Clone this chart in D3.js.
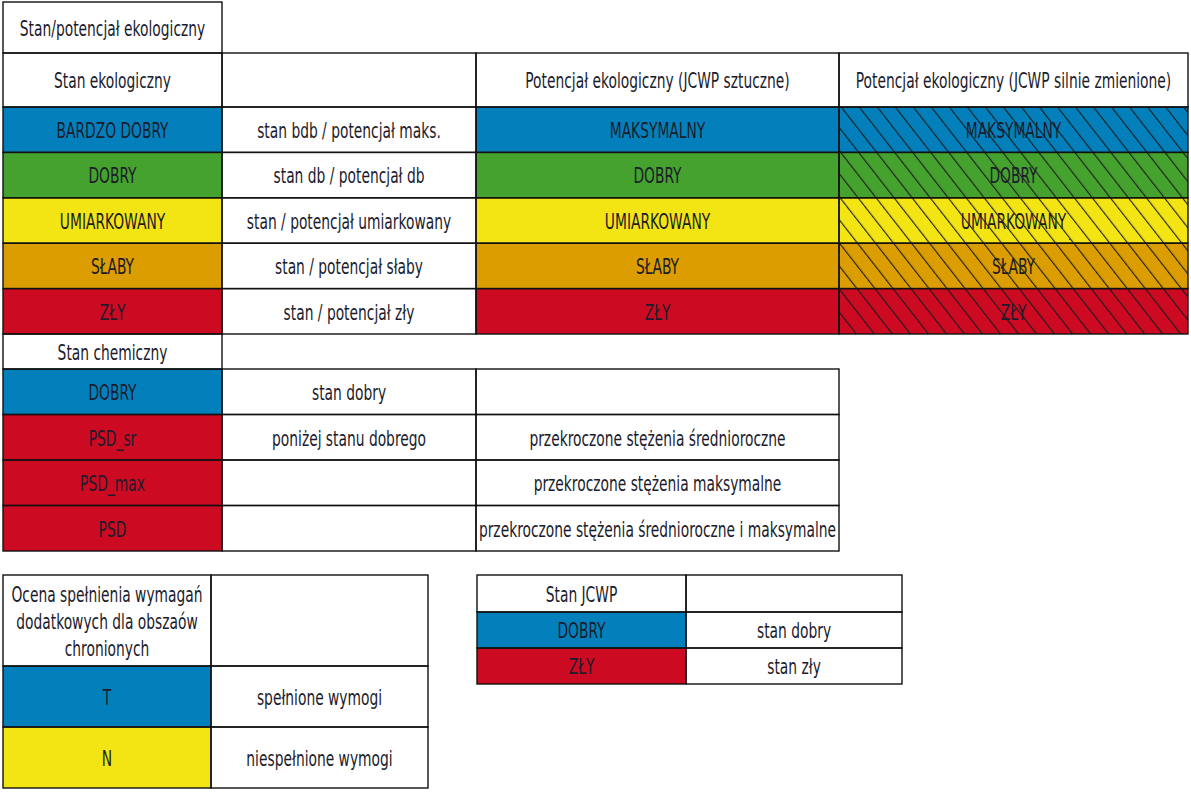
<!DOCTYPE html>
<html><head><meta charset="utf-8">
<script src="https://cdn.jsdelivr.net/npm/d3@7"></script>
<style>
html,body{margin:0;padding:0;background:#fff;}
svg text{font-family:"DejaVu Sans Condensed","DejaVu Sans",sans-serif;fill:#1c1c2c;}
</style></head>
<body>
<svg id="chart" width="1191" height="793"></svg>
<script>
// ---------- data ----------
const colorNames = ["blue","green","yellow","orange","red"];
const colorValues = ["#0380bc","#45a22f","#f3e514","#db9d00","#cc0a21"];

const ecoTitle = "Stan/potencjał ekologiczny";
const ecoHeaders = ["Stan ekologiczny","","Potencjał ekologiczny (JCWP sztuczne)","Potencjał ekologiczny (JCWP silnie zmienione)"];
const ecoStatus = ["BARDZO DOBRY","DOBRY","UMIARKOWANY","SŁABY","ZŁY"];
const ecoDescription = ["stan bdb / potencjał maks.","stan db / potencjał db","stan / potencjał umiarkowany","stan / potencjał słaby","stan / potencjał zły"];
const ecoPotential = ["MAKSYMALNY","DOBRY","UMIARKOWANY","SŁABY","ZŁY"];
const ecoColors = ["blue","green","yellow","orange","red"];

const chemTitle = "Stan chemiczny";
const chemStatus = ["DOBRY","PSD_sr","PSD_max","PSD"];
const chemDescription = ["stan dobry","poniżej stanu dobrego","",""];
const chemDetail = ["","przekroczone stężenia średnioroczne","przekroczone stężenia maksymalne","przekroczone stężenia średnioroczne i maksymalne"];
const chemColors = ["blue","red","red","red"];

const protTitle = ["Ocena spełnienia wymagań","dodatkowych dla obszaów","chronionych"];
const protStatus = ["T","N"];
const protDescription = ["spełnione wymogi","niespełnione wymogi"];
const protColors = ["blue","yellow"];

const jcwpTitle = "Stan JCWP";
const jcwpStatus = ["DOBRY","ZŁY"];
const jcwpDescription = ["stan dobry","stan zły"];
const jcwpColors = ["blue","red"];

// ---------- drawing ----------
const color = d3.scaleOrdinal().domain(colorNames).range(colorValues);
const svg = d3.select("#chart");
const FS = 20.5, SX = 0.75;

const defs = svg.append("defs");
const HP = 14.2;
const pat = defs.append("pattern").attr("id","hatch")
  .attr("patternUnits","userSpaceOnUse").attr("width",HP).attr("height",HP)
  .attr("patternTransform","rotate(-38)");
pat.append("line").attr("x1",0.6).attr("y1",0).attr("x2",0.6).attr("y2",HP)
  .attr("stroke","#1a1a1a").attr("stroke-width",1.1);

const gFill = svg.append("g"), gLine = svg.append("g"), gText = svg.append("g");

function cell(x0,x1,y0,y1,fill,label,hatch){
  gFill.append("rect").attr("x",x0).attr("y",y0).attr("width",x1-x0).attr("height",y1-y0)
    .attr("fill",fill||"#fff");
  if(hatch) gFill.append("rect").attr("x",x0).attr("y",y0).attr("width",x1-x0).attr("height",y1-y0)
    .attr("fill","url(#hatch)");
  gLine.append("rect").attr("x",x0).attr("y",y0).attr("width",x1-x0).attr("height",y1-y0)
    .attr("fill","none").attr("stroke","#111").attr("stroke-width",1.4);
  if(label){
    const lines = Array.isArray(label)?label:[label];
    const lh = 27, cy=(y0+y1)/2 - (lines.length-1)*lh/2;
    lines.forEach((t,i)=>{
      gText.append("text")
        .attr("transform",`translate(${(x0+x1)/2},${cy+i*lh+1}) scale(${SX},1)`)
        .attr("text-anchor","middle").attr("dominant-baseline","central")
        .attr("font-size",FS).text(t);
    });
  }
}

// top table
const colX = [3,222,476,839,1188];
cell(colX[0],colX[1],2,53,null,ecoTitle);
ecoHeaders.forEach((h,i)=>cell(colX[i],colX[i+1],53,107,null,h));
const yEco = d3.scaleBand().domain(d3.range(ecoStatus.length)).range([107,334]);
ecoStatus.forEach((s,i)=>{
  const y0=yEco(i), y1=y0+yEco.bandwidth(), c=color(ecoColors[i]);
  cell(colX[0],colX[1],y0,y1,c,s);
  cell(colX[1],colX[2],y0,y1,null,ecoDescription[i]);
  cell(colX[2],colX[3],y0,y1,c,ecoPotential[i]);
  cell(colX[3],colX[4],y0,y1,c,ecoPotential[i],true);
});

// chemical table
cell(colX[0],colX[1],334,369,null,chemTitle);
const yChem = d3.scaleBand().domain(d3.range(chemStatus.length)).range([369,551]);
chemStatus.forEach((s,i)=>{
  const y0=yChem(i), y1=y0+yChem.bandwidth();
  cell(colX[0],colX[1],y0,y1,color(chemColors[i]),s);
  cell(colX[1],colX[2],y0,y1,null,chemDescription[i]);
  cell(colX[2],colX[3],y0,y1,null,chemDetail[i]);
});

// protected areas table
const pX=[3,211,428];
cell(pX[0],pX[1],575,666,null,protTitle);
cell(pX[1],pX[2],575,666,null,"");
const yProt = d3.scaleBand().domain(d3.range(protStatus.length)).range([666,788]);
protStatus.forEach((s,i)=>{
  const y0=yProt(i), y1=y0+yProt.bandwidth();
  cell(pX[0],pX[1],y0,y1,color(protColors[i]),s);
  cell(pX[1],pX[2],y0,y1,null,protDescription[i]);
});

// JCWP table
const jX=[477,686,902];
cell(jX[0],jX[1],575,612,null,jcwpTitle);
cell(jX[1],jX[2],575,612,null,"");
const yJ = d3.scaleBand().domain(d3.range(jcwpStatus.length)).range([612,684]);
jcwpStatus.forEach((s,i)=>{
  const y0=yJ(i), y1=y0+yJ.bandwidth();
  cell(jX[0],jX[1],y0,y1,color(jcwpColors[i]),s);
  cell(jX[1],jX[2],y0,y1,null,jcwpDescription[i]);
});
</script>
</body></html>
